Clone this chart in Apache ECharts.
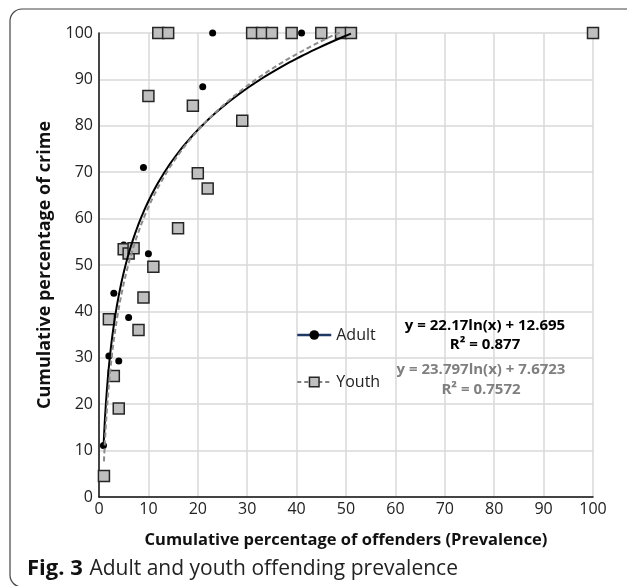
<!DOCTYPE html>
<html>
<head>
<meta charset="utf-8">
<script src="https://cdn.jsdelivr.net/npm/echarts@6/dist/echarts.min.js"></script>
<style>
html,body{margin:0;padding:0;background:#fff;}
#c{width:627px;height:586px;}
</style>
</head>
<body>
<div id="c"></div>
<script>
// Data
const adultX = [0.9, 2, 3, 4, 5, 6, 9, 10, 21, 23, 41, 51];
const adultY = [11.1, 30.4, 43.9, 29.3, 54.3, 38.7, 71, 52.4, 88.4, 100, 100, 100];
const youthX = [1, 2, 3, 4, 5, 6, 7, 8, 9, 10, 11, 12, 14, 16, 19, 20, 22, 29, 31, 33, 35, 39, 45, 49, 51, 100];
const youthY = [4.5, 38.3, 26.1, 19.1, 53.4, 52.5, 53.6, 36.0, 43.0, 86.4, 49.6, 100, 100, 57.9, 84.3, 69.8, 66.5, 81.1, 100, 100, 100, 100, 100, 100, 100, 100];
// Trendline coefficients printed on the figure: y = a ln(x) + b
const adultFit = [22.17, 12.695];
const youthFit = [23.797, 7.6723];
const adultFitRange = [0.9, 51];
const youthFitRange = [1, 51];
const xTicks = [0, 10, 20, 30, 40, 50, 60, 70, 80, 90, 100];
const yTicks = [0, 10, 20, 30, 40, 50, 60, 70, 80, 90, 100];
const adultEq = ['y = 22.17ln(x) + 12.695', 'R² = 0.877'];
const youthEq = ['y = 23.797ln(x) + 7.6723', 'R² = 0.7572'];

function pairs(xs, ys){ return xs.map((x,i)=>[x, ys[i]]); }
function fitLine(coef, range){
  const pts = [];
  const n = 120;
  for(let i=0;i<=n;i++){
    const x = range[0] + (range[1]-range[0]) * Math.pow(i/n, 2);
    pts.push([x, coef[0]*Math.log(x) + coef[1]]);
  }
  return pts;
}

const chart = echarts.init(document.getElementById('c'), null, {renderer:'canvas'});
const FONT = '"Open Sans", "Liberation Sans", sans-serif';
chart.setOption({
  animation:false,
  backgroundColor:'#fff',
  textStyle:{fontFamily:FONT},
  grid:{left:99, top:33, right:34, bottom:89, containLabel:false},
  xAxis:{
    type:'value', min:xTicks[0], max:xTicks[xTicks.length-1], interval:10,
    name:'Cumulative percentage of offenders (Prevalence)',
    nameLocation:'middle', nameGap:35,
    nameTextStyle:{fontFamily:FONT, fontWeight:'bold', fontSize:16.5, color:'#111'},
    axisLine:{show:true, onZero:false, lineStyle:{color:'#111', width:1.5}},
    axisTick:{show:false},
    axisLabel:{fontFamily:FONT, fontSize:16, color:'#222', margin:4},
    splitLine:{show:true, lineStyle:{color:'#d9d9d9', width:1.5}}
  },
  yAxis:{
    type:'value', min:yTicks[0], max:yTicks[yTicks.length-1], interval:10,
    name:'Cumulative percentage of crime',
    nameLocation:'middle', nameGap:45,
    nameTextStyle:{fontFamily:FONT, fontWeight:'bold', fontSize:18, color:'#111'},
    axisLine:{show:true, onZero:false, lineStyle:{color:'#111', width:1.5}},
    axisTick:{show:false},
    axisLabel:{fontFamily:FONT, fontSize:16, color:'#222', margin:6},
    splitLine:{show:true, lineStyle:{color:'#d9d9d9', width:1.5}}
  },
  legend:{
    orient:'vertical', left:291, top:322, itemWidth:34, itemHeight:12, itemGap:31,
    textStyle:{fontFamily:FONT, fontSize:16, color:'#222'},
    data:[
      {name:'Adult', itemStyle:{color:'#000'}, lineStyle:{color:'#1f3864', width:2.5, opacity:1, type:'solid'}},
      {name:'Youth', itemStyle:{color:'#bfbfbf', borderColor:'#262626', borderWidth:1.5}, lineStyle:{color:'#7f7f7f', width:2, opacity:1, type:[4,3]}}
    ]
  },
  series:[
    {
      name:'Adult', type:'line', data:pairs(adultX, adultY), z:3,
      symbol:'circle', symbolSize:7, showAllSymbol:true,
      itemStyle:{color:'#000'},
      lineStyle:{opacity:0}
    },
    {
      name:'Youth', type:'line', data:pairs(youthX, youthY), z:4,
      symbol:'rect', symbolSize:11, showAllSymbol:true,
      itemStyle:{color:'#bfbfbf', borderColor:'#262626', borderWidth:1.5},
      lineStyle:{opacity:0}
    },
    {
      name:'AdultFit', type:'line', data:fitLine(adultFit, adultFitRange), z:5,
      showSymbol:false, smooth:false, clip:true,
      lineStyle:{color:'#000', width:2}
    },
    {
      name:'YouthFit', type:'line', data:fitLine(youthFit, youthFitRange), z:5,
      showSymbol:false, smooth:false, clip:true,
      lineStyle:{color:'#8c8c8c', width:2, type:[5,3]}
    }
  ],
  graphic:[
    {type:'rect', shape:{x:10, y:9, width:800, height:578, r:12}, style:{fill:'none', stroke:'#444', lineWidth:1.2}, silent:true, z:0},
    {type:'text', x:485, y:326, style:{text:adultEq[0], font:'bold 15px ' + FONT, fill:'#000', align:'center', verticalAlign:'middle'}, z:10},
    {type:'text', x:485, y:345, style:{text:adultEq[1], font:'bold 15px ' + FONT, fill:'#000', align:'center', verticalAlign:'middle'}, z:10},
    {type:'text', x:481, y:370, style:{text:youthEq[0], font:'bold 15px ' + FONT, fill:'#7f7f7f', align:'center', verticalAlign:'middle'}, z:10},
    {type:'text', x:481, y:390, style:{text:youthEq[1], font:'bold 15px ' + FONT, fill:'#7f7f7f', align:'center', verticalAlign:'middle'}, z:10},
    {type:'text', x:27, y:569, style:{
      text:'{b|Fig. 3}  {r|Adult and youth offending prevalence}',
      rich:{b:{font:'bold 22px ' + FONT, fill:'#111'}, r:{font:'21px ' + FONT, fill:'#222'}},
      verticalAlign:'middle'}, z:10}
  ]
});
</script>
</body>
</html>
